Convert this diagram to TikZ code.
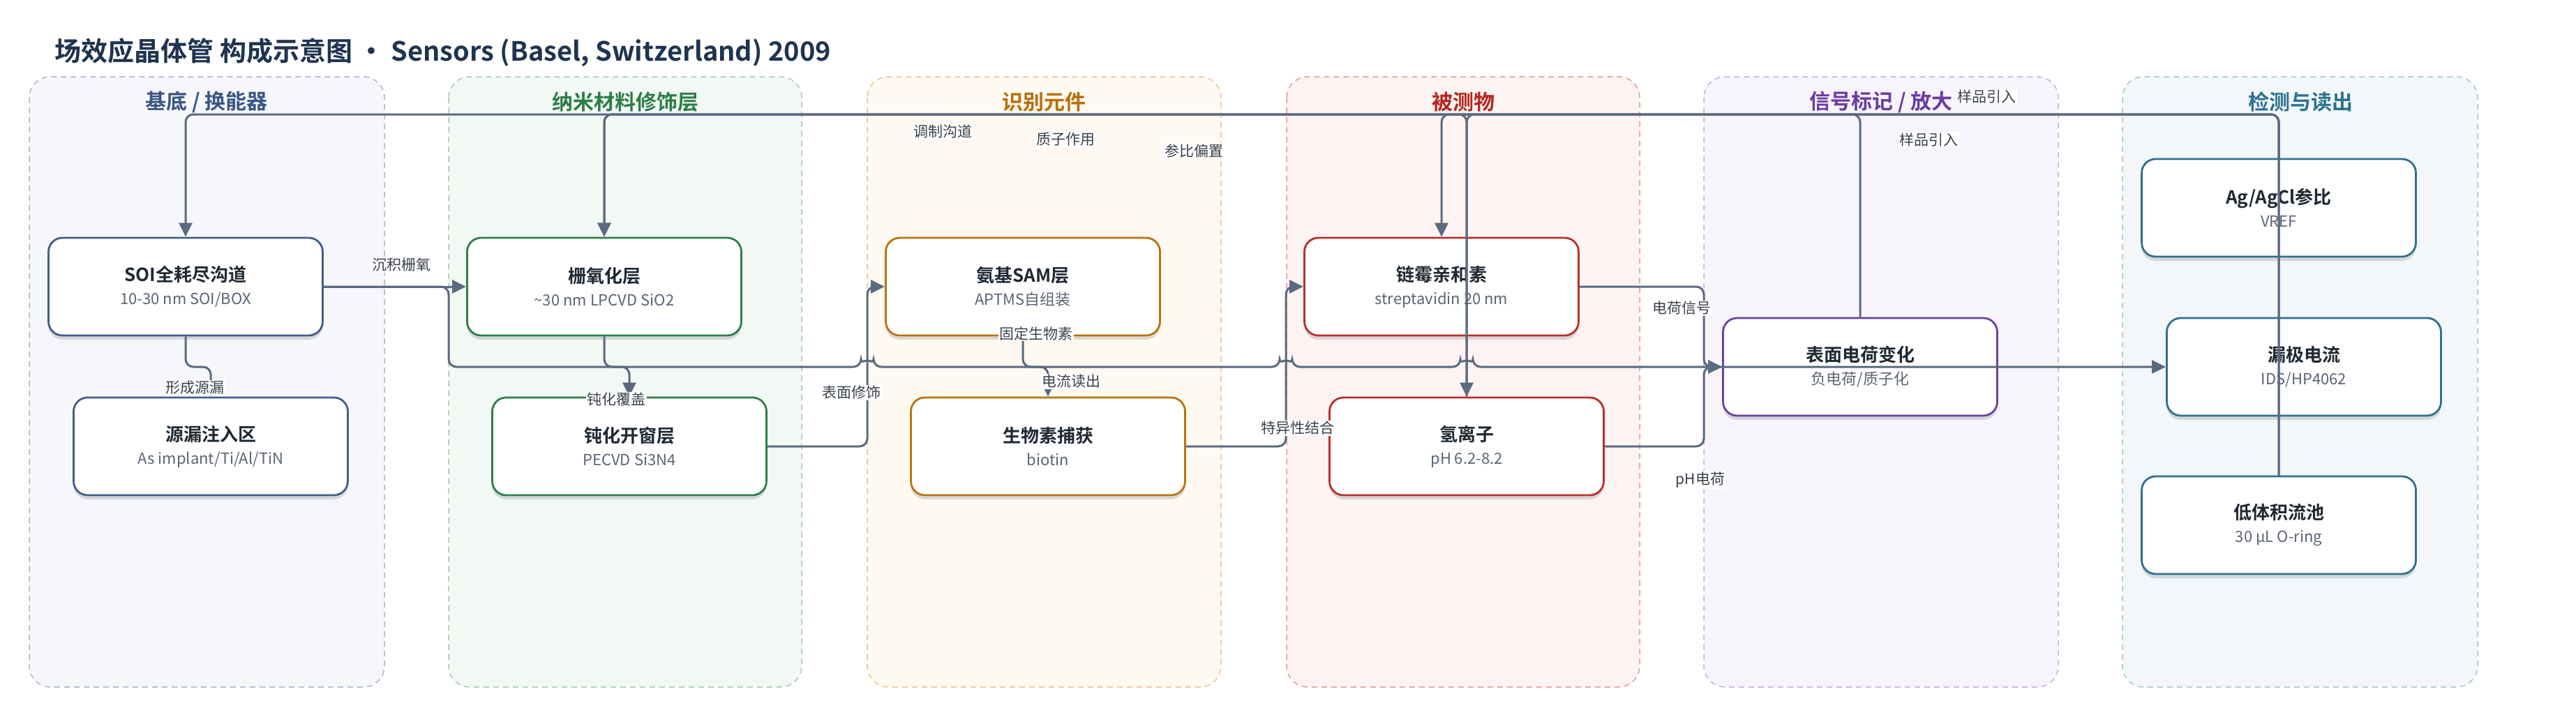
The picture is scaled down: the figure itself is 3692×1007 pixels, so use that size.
\documentclass[tikz,border=0pt]{standalone}
\usepackage{fontspec}
\setmainfont{Noto Sans CJK SC}[BoldFont={* Bold}]
\usetikzlibrary{arrows.meta,shadows}

\definecolor{inkNavy}{HTML}{1E3450}
\definecolor{wireGray}{HTML}{5A6A80}
\definecolor{textDark}{HTML}{1F2933}
\definecolor{textGray}{HTML}{5B6575}
\definecolor{labelGray}{HTML}{3A414B}

\definecolor{slateFill}{HTML}{F5F7FB}
\definecolor{slateLine}{HTML}{A9B7CC}
\definecolor{slateInk}{HTML}{3A5683}
\definecolor{slateEdge}{HTML}{3F5F8A}
\definecolor{leafFill}{HTML}{F2F8F4}
\definecolor{leafLine}{HTML}{A4CDB0}
\definecolor{leafInk}{HTML}{2E7D46}
\definecolor{leafEdge}{HTML}{2E7D4A}
\definecolor{amberFill}{HTML}{FEF9F1}
\definecolor{amberLine}{HTML}{E8C48F}
\definecolor{amberInk}{HTML}{B7700C}
\definecolor{amberEdge}{HTML}{B8730E}
\definecolor{rubyFill}{HTML}{FDF3F2}
\definecolor{rubyLine}{HTML}{E59A98}
\definecolor{rubyInk}{HTML}{B3261E}
\definecolor{rubyEdge}{HTML}{B8302A}
\definecolor{plumFill}{HTML}{F7F4FC}
\definecolor{plumLine}{HTML}{C6AEE3}
\definecolor{plumInk}{HTML}{6A3DA0}
\definecolor{plumEdge}{HTML}{6B40A0}
\definecolor{tealFill}{HTML}{F3F7F9}
\definecolor{tealLine}{HTML}{A3C6D2}
\definecolor{tealInk}{HTML}{2C7391}
\definecolor{tealEdge}{HTML}{2F7090}

\newcommand{\nodetxt}[2]{{\fontsize{26}{33}\selectfont\bfseries\color{textDark}#1}\\{\color{textGray}#2}}

\tikzset{
    panel/.style={draw=#1Line, fill=#1Fill, line width=1.5pt, dash pattern=on 8pt off 6pt, rounded corners=30pt},
    lanetitle/.style={text=#1, font=\fontsize{30}{36}\selectfont\bfseries},
    box/.style={draw=#1, fill=white, line width=2.8pt, rounded corners=20pt,
        minimum width=393pt, minimum height=140pt, align=center,
        font=\fontsize{22}{33}\selectfont,
        drop shadow={shadow xshift=0pt, shadow yshift=-6pt, opacity=0.13, fill=black}},
    wire/.style={draw=wireGray, line width=3pt, rounded corners=11pt, -{Triangle[length=20pt,width=19pt]}},
    lbl/.style={fill=white, inner sep=1.5pt, text=labelGray, font=\fontsize{21}{24}\selectfont}
}

\begin{document}
\begin{tikzpicture}[x=1pt, y=-1pt]
    \useasboundingbox (0,0) rectangle (3692,1007);

    \node[anchor=west, text=inkNavy, font=\fontsize{38}{44}\selectfont\bfseries] (title) at (75,75) {场效应晶体管 构成示意图 • Sensors (Basel, Switzerland) 2009};

    % lanes
    \draw[panel=slate] (42,110) rectangle (551,985);
    \draw[panel=leaf] (643,110) rectangle (1149,985);
    \draw[panel=amber] (1243,110) rectangle (1750,985);
    \draw[panel=ruby] (1844,110) rectangle (2350,985);
    \draw[panel=plum] (2442,110) rectangle (2950,985);
    \draw[panel=teal] (3042,110) rectangle (3551,985);

    \node[lanetitle=slateInk] (laneA) at (296,146) {基底 / 换能器};
    \node[lanetitle=leafInk] (laneB) at (896,146) {纳米材料修饰层};
    \node[lanetitle=amberInk] (laneC) at (1496,146) {识别元件};
    \node[lanetitle=rubyInk] (laneD) at (2097,146) {被测物};
    \node[lanetitle=plumInk] (laneE) at (2696,146) {信号标记 / 放大};
    \node[lanetitle=tealInk] (laneF) at (3297,146) {检测与读出};

    % blocks
    \node[box=slateEdge] (soi) at (266,411) {\nodetxt{SOI全耗尽沟道}{10-30 nm SOI/BOX}};
    \node[box=slateEdge] (sd) at (302,640) {\nodetxt{源漏注入区}{As implant/Ti/Al/TiN}};
    \node[box=leafEdge] (gox) at (866,411) {\nodetxt{栅氧化层}{\textasciitilde30 nm LPCVD SiO2}};
    \node[box=leafEdge] (pas) at (902,640) {\nodetxt{钝化开窗层}{PECVD Si3N4}};
    \node[box=amberEdge] (sam) at (1466,411) {\nodetxt{氨基SAM层}{APTMS自组装}};
    \node[box=amberEdge] (bio) at (1502,640) {\nodetxt{生物素捕获}{biotin}};
    \node[box=rubyEdge] (strep) at (2066,411) {\nodetxt{链霉亲和素}{streptavidin 20 nm}};
    \node[box=rubyEdge] (hion) at (2102,640) {\nodetxt{氢离子}{pH 6.2-8.2}};
    \node[box=plumEdge] (sfc) at (2666,526) {\nodetxt{表面电荷变化}{负电荷/质子化}};
    \node[box=tealEdge] (ref) at (3266,298) {\nodetxt{Ag/AgCl参比}{VREF}};
    \node[box=tealEdge] (drain) at (3302,526) {\nodetxt{漏极电流}{IDS/HP4062}};
    \node[box=tealEdge] (flow) at (3266,753) {\nodetxt{低体积流池}{30 μL O-ring}};

    % routing lanes
    \coordinate (bus) at (0,164);
    \coordinate (v0) at (643,0);
    \coordinate (v1) at (1243,0);
    \coordinate (v2) at (1843,0);
    \coordinate (v4) at (2442,0);

    % connectors
    \draw[wire] (soi.east) -- (gox.west);
    \draw[wire] (soi.south) -- (soi.south |- sfc.west) -- (sd.north |- sfc.west) -- (sd.north);
    \draw[wire] (gox.south) -- (gox.south |- sfc.west) -- (pas.north |- sfc.west) -- (pas.north);
    \draw[wire] (pas.east) -- (pas.east -| v1) -- (v1 |- sam.west) -- (sam.west);
    \draw[wire] (sam.south) -- (sam.south |- sfc.west) -- (bio.north |- sfc.west) -- (bio.north);
    \draw[wire] (bio.east) -- (bio.east -| v2) -- (v2 |- strep.west) -- (strep.west);
    \draw[wire] (strep.east) -- (strep.east -| v4) -- (v4 |- sfc.west) -- (sfc.west);
    \draw[wire] (hion.east) -- (hion.east -| v4) -- (v4 |- sfc.west) -- (sfc.west);
    \draw[wire] (soi.east) -- (soi.east -| v0) -- (v0 |- sfc.west)
        -- ([xshift=-9pt]v1 |- sfc.west) arc[start angle=180, end angle=0, radius=9pt]
        -- ([xshift=-9pt]v2 |- sfc.west) arc[start angle=180, end angle=0, radius=9pt]
        -- ([xshift=-9pt]hion.north |- sfc.west) arc[start angle=180, end angle=0, radius=9pt]
        -- (drain.west);
    \draw[wire] (sfc.north) -- (sfc.north |- bus) -- (soi.north |- bus) -- (soi.north);
    \draw[wire] (hion.north) -- (hion.north |- bus) -- (gox.north |- bus) -- (gox.north);
    \draw[wire] (ref.north) -- (ref.north |- bus) -- (gox.north |- bus) -- (gox.north);
    \draw[wire] (flow.north) -- (flow.north |- bus) -- (strep.north |- bus) -- (strep.north);
    \draw[wire] (flow.north) -- (flow.north |- bus) -- (hion.north |- bus) -- (hion.north);

    % labels
    \node[lbl] (l1) at (575,380) {沉积栅氧};
    \node[lbl] (l2) at (279,556) {形成源漏};
    \node[lbl] (l3) at (883,573) {钝化覆盖};
    \node[lbl] (l4) at (1220,563) {表面修饰};
    \node[lbl] (l5) at (1485,478) {固定生物素};
    \node[lbl] (l6) at (1535,547) {电流读出};
    \node[lbl] (l7) at (1860,614) {特异性结合};
    \node[lbl] (l8) at (2410,442) {电荷信号};
    \node[lbl] (l9) at (2437,688) {pH电荷};
    \node[lbl] (l10) at (1351,188) {调制沟道};
    \node[lbl] (l11) at (1527,200) {质子作用};
    \node[lbl] (l12) at (1711,216) {参比偏置};
    \node[lbl] (l13) at (2764,200) {样品引入};
    \node[lbl] (l14) at (2847,138) {样品引入};
\end{tikzpicture}
\end{document}
